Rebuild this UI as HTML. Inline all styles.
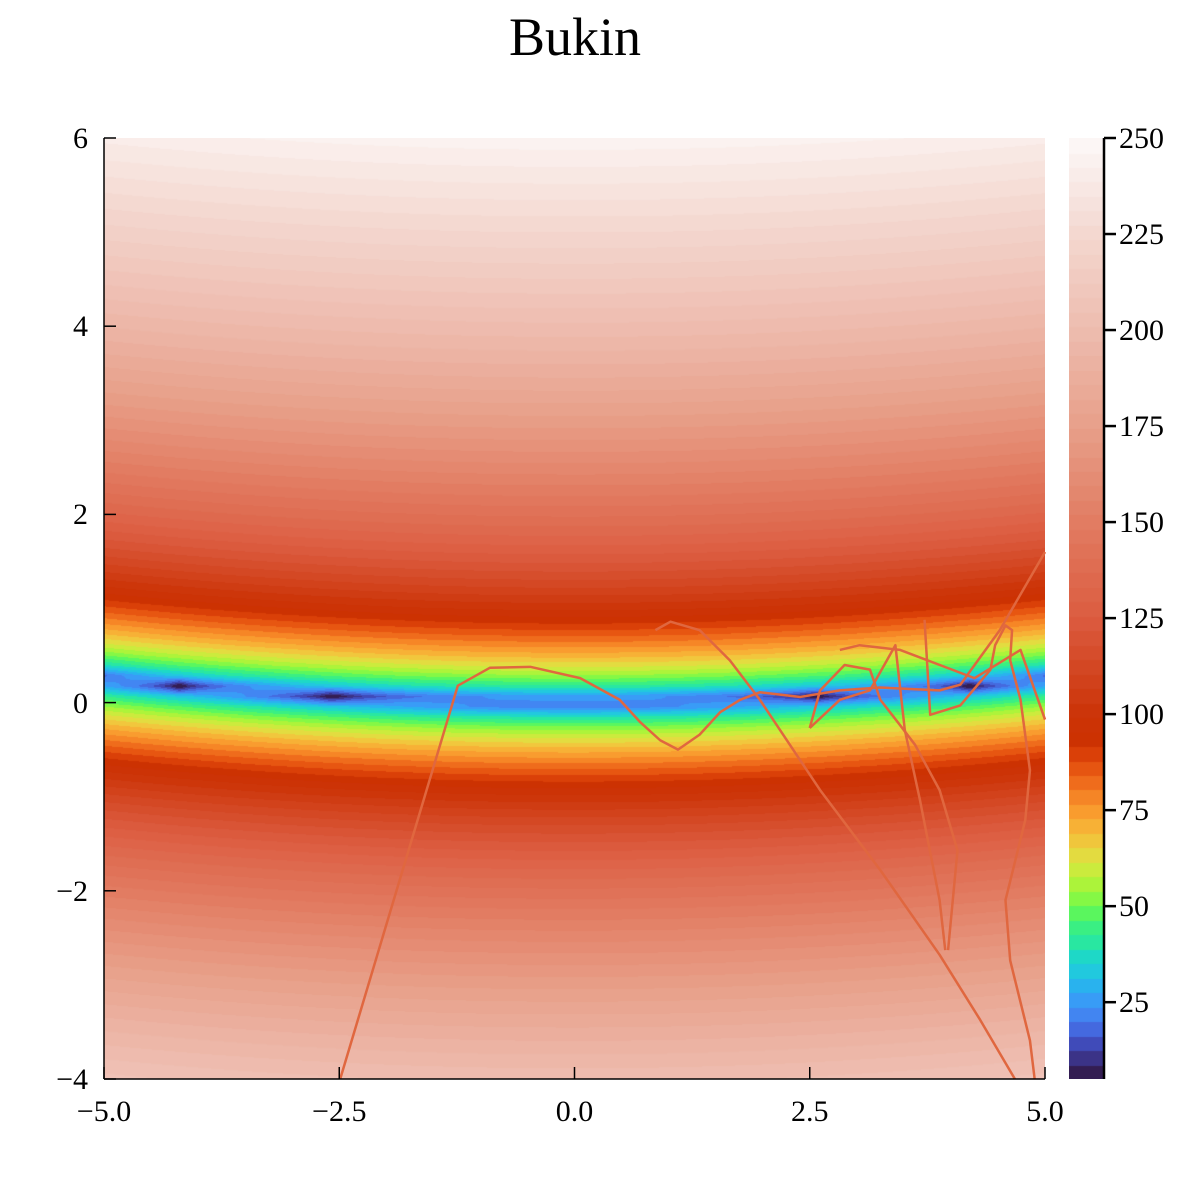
<!DOCTYPE html>
<html><head><meta charset="utf-8">
<style>
body{margin:0;background:#fff;}
#wrap{position:relative;width:1200px;height:1200px;font-family:"Liberation Serif",serif;color:#000;}
.t{position:absolute;font-size:30px;line-height:1;white-space:nowrap;}
</style></head>
<body>
<div id="wrap">
<div class="t" style="left:0;width:1150px;text-align:center;top:10px;font-size:54px;">Bukin</div>
<canvas id="cv" width="941" height="941" style="position:absolute;left:104px;top:138px;"></canvas>
<canvas id="cb" width="35" height="941" style="position:absolute;left:1069px;top:138px;"></canvas>
<svg id="ov" width="1200" height="1200" style="position:absolute;left:0;top:0;"></svg>
</div>
<script>
// data
const xRange=[-5,5], yRange=[-4,6], cRange=[5,250];
const xTicks=[-5,-2.5,0,2.5,5], xTickLabels=["\u22125.0","\u22122.5","0.0","2.5","5.0"];
const yTicks=[6,4,2,0,-2,-4], yTickLabels=["6","4","2","0","\u22122","\u22124"];
const cTicks=[25,50,75,100,125,150,175,200,225,250];
const pathA=[[-2.49,-4],[-1.24,0.18],[-0.9,0.37],[-0.47,0.38],[0.06,0.26],[0.48,0.03],[0.7,-0.21],[0.91,-0.4],[1.1,-0.5],[1.33,-0.34],[1.55,-0.1],[1.76,0.03],[1.97,0.11],[2.4,0.06],[2.82,0.13],[3.25,0.16],[3.88,0.13],[4.1,0.19],[4.52,0.77],[5.0,1.6]];
const pathB=[[0.86,0.77],[1.02,0.86],[1.33,0.77],[1.65,0.45],[1.97,0.03],[2.61,-0.93],[3.25,-1.78],[3.88,-2.68],[4.31,-3.37],[4.68,-4]];
const pathC=[[2.5,-0.27],[2.61,0.13],[2.87,0.4],[3.14,0.35],[3.25,0.03],[3.46,-0.24],[3.62,-0.45],[3.88,-0.93],[4.07,-1.57],[3.97,-2.63]];
const pathD=[[3.72,0.88],[3.78,-0.13],[4.1,-0.03],[4.42,0.35],[4.47,0.61],[4.58,0.82],[4.65,0.77],[4.63,0.45],[4.74,0.03],[4.84,-0.72],[4.79,-1.25],[4.58,-2.1],[4.63,-2.74],[4.84,-3.59],[4.89,-4]];
const pathE=[[2.82,0.56],[3.03,0.61],[3.46,0.56],[4.25,0.26],[4.74,0.56],[5.0,-0.18]];
const pathF=[[2.5,-0.27],[2.82,0.03],[3.14,0.13],[3.41,0.61],[3.51,-0.29],[3.67,-1.03],[3.88,-2.1],[3.94,-2.63]];
const paths=[pathA,pathB,pathC,pathD,pathE,pathF];

const L=104,T=138,W=941,H=941;
const sx=v=>L+(v-xRange[0])/(xRange[1]-xRange[0])*W;
const sy=v=>T+(yRange[1]-v)/(yRange[1]-yRange[0])*H;
const sc=v=>T+(cRange[1]-v)/(cRange[1]-cRange[0])*H;

const stops=[[5,"2e1238"],[9,"3a2a70"],[13,"3e40a8"],[17,"4560d8"],[21,"4480f0"],[25,"3c98f8"],[29,"2ab0f0"],[33,"22c8e0"],[37,"1ed8c8"],[41,"2ae8a0"],[45,"3cf080"],[49,"60f858"],[53,"90f840"],[57,"b8f238"],[61,"d6e840"],[65,"ecd440"],[69,"f5bc3a"],[73,"faa632"],[77,"f8902a"],[81,"f27420"],[85,"ea5c14"],[89,"de440a"],[93,"cc3202"],[100,"cc3408"],[125,"dc5c40"],[150,"e27c62"],[175,"e8a08a"],[200,"eebcaf"],[225,"f4d8d0"],[250,"fdf9f9"]].map(s=>[s[0],parseInt(s[1].slice(0,2),16),parseInt(s[1].slice(2,4),16),parseInt(s[1].slice(4),16)]);
function col(v){
  if(v<=stops[0][0])return stops[0].slice(1);
  for(let i=1;i<stops.length;i++){if(v<=stops[i][0]){const a=stops[i-1],b=stops[i],t=(v-a[0])/(b[0]-a[0]);return [a[1]+(b[1]-a[1])*t,a[2]+(b[2]-a[2])*t,a[3]+(b[3]-a[3])*t];}}
  return stops[stops.length-1].slice(1);
}
const nLev=65, step=(cRange[1]-cRange[0])/nLev;
const quant=v=>{let k=Math.floor((v-cRange[0])/step);k=Math.max(0,Math.min(nLev-1,k));return cRange[0]+(k+0.5)*step;};
const bukin=(x,y)=>100*Math.sqrt(Math.abs(y-0.01*x*x))+0.01*Math.abs(x+10);

// grid
const NX=101, NY=92, G=[];
for(let j=0;j<NY;j++){G.push([]);for(let i=0;i<NX;i++){const x=xRange[0]+i*(xRange[1]-xRange[0])/(NX-1),y=yRange[0]+j*(yRange[1]-yRange[0])/(NY-1);G[j].push(bukin(x,y));}}
const cv=document.getElementById('cv'),ctx=cv.getContext('2d'),img=ctx.createImageData(W,H);
for(let py=0;py<H;py++){const y=yRange[1]-(py+0.5)/H*(yRange[1]-yRange[0]);const fj=(y-yRange[0])/(yRange[1]-yRange[0])*(NY-1);const j=Math.min(NY-2,Math.floor(fj)),tj=fj-j;
 for(let px=0;px<W;px++){const x=xRange[0]+(px+0.5)/W*(xRange[1]-xRange[0]);const fi=(x-xRange[0])/(xRange[1]-xRange[0])*(NX-1);const i=Math.min(NX-2,Math.floor(fi)),ti=fi-i;
  const v=(G[j][i]*(1-ti)+G[j][i+1]*ti)*(1-tj)+(G[j+1][i]*(1-ti)+G[j+1][i+1]*ti)*tj;
  const c=col(quant(v));const o=(py*W+px)*4;img.data[o]=c[0];img.data[o+1]=c[1];img.data[o+2]=c[2];img.data[o+3]=255;}}
ctx.putImageData(img,0,0);
const cb=document.getElementById('cb'),cctx=cb.getContext('2d');
for(let k=0;k<nLev;k++){const lo=cRange[0]+k*step,c=col(lo+step/2);cctx.fillStyle=`rgb(${c[0]|0},${c[1]|0},${c[2]|0})`;const y0=sc(lo+step)-T,y1=sc(lo)-T;cctx.fillRect(0,Math.floor(y0),35,Math.ceil(y1-y0)+1);}

const ov=document.getElementById('ov'),NS="http://www.w3.org/2000/svg";
function mk(tag,attrs){const e=document.createElementNS(NS,tag);for(const k in attrs)e.setAttribute(k,attrs[k]);ov.appendChild(e);return e;}
paths.forEach((p,idx)=>{const e=mk('polyline',{points:p.map(q=>sx(q[0])+','+sy(q[1])).join(' '),fill:'none',stroke:'#e0673f','stroke-width':2.5,'stroke-linejoin':'round'});
 
 });
let e=mk('line',{x1:L,y1:T,x2:L,y2:T+H,stroke:'#000','stroke-width':1.5});


e=mk('line',{x1:L,y1:T+H,x2:L+W,y2:T+H,stroke:'#000','stroke-width':1.5});


e=mk('line',{x1:1104,y1:T,x2:1104,y2:T+H,stroke:'#000','stroke-width':2.5});


const wrap=document.getElementById('wrap');
function lab(txt,x,y,align,name){const d=document.createElement('div');d.className='t';d.textContent=txt;d.style.top=(y-14)+'px';
 if(align==='c'){d.style.left=(x-60)+'px';d.style.width='120px';d.style.textAlign='center';}
 else if(align==='r'){d.style.left=(x-120)+'px';d.style.width='120px';d.style.textAlign='right';}
 else d.style.left=x+'px';
 
 
 wrap.appendChild(d);}
xTicks.forEach((v,i)=>{const t=mk('line',{x1:sx(v),y1:T+H,x2:sx(v),y2:T+H-12,stroke:'#000','stroke-width':1.5});
 
 
 lab(xTickLabels[i],sx(v),T+H+32,'c','x-tick-label');});
yTicks.forEach((v,i)=>{const t=mk('line',{x1:L,y1:sy(v),x2:L+12,y2:sy(v),stroke:'#000','stroke-width':1.5});
 
 
 lab(yTickLabels[i],L-16,sy(v),'r','y-tick-label');});
cTicks.forEach(v=>{const t=mk('line',{x1:1104,y1:sc(v),x2:1116,y2:sc(v),stroke:'#000','stroke-width':2.5});
 
 
 lab(String(v),1119,sc(v),'l','colorbar-tick-label');});
</script>
</body></html>
